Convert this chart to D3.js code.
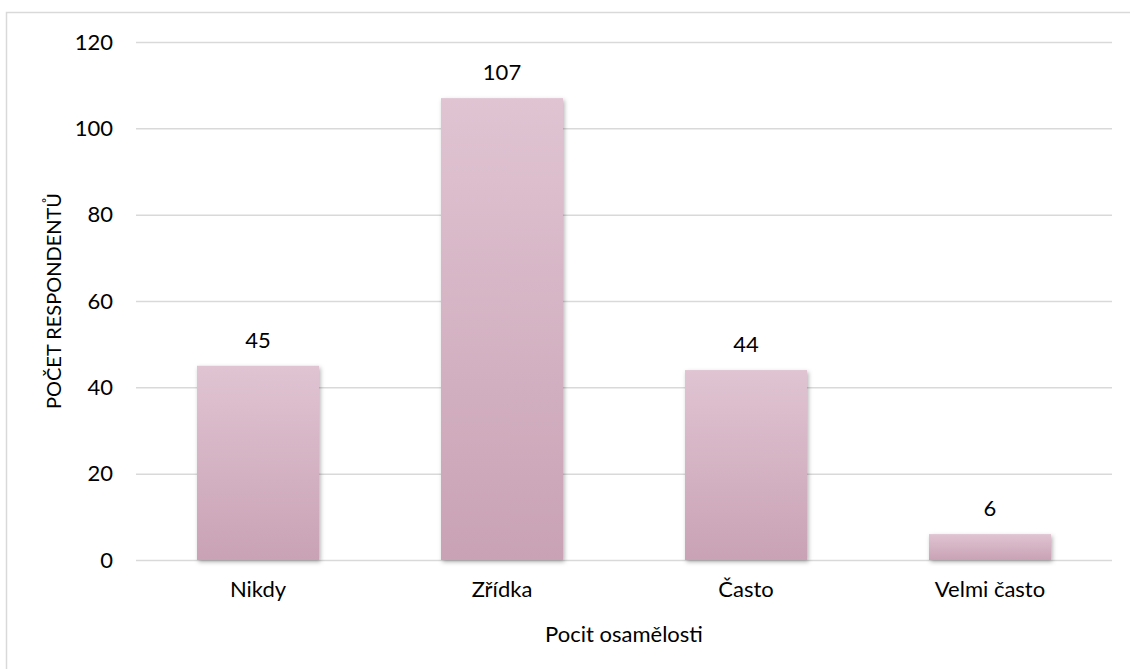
<!DOCTYPE html>
<html><head><meta charset="utf-8">
<script src="https://cdn.jsdelivr.net/npm/d3@7"></script>
<style>body{margin:0;background:#fff}svg{display:block}text{font-family:Lato,"Open Sans",sans-serif;fill:#000}</style>
</head><body><svg id="c" width="1130" height="669"></svg>
<script>
const categories = ["Nikdy", "Zřídka", "Často", "Velmi často"];
const values = [45, 107, 44, 6];
const yTicks = [0, 20, 40, 60, 80, 100, 120];
const xTitle = "Pocit osamělosti";
const yTitle = "POČET RESPONDENTŮ";

const svg = d3.select("#c");
const m = {l:136, r:1112, t:42, b:560};
const x = d3.scaleBand().domain(categories).range([m.l, m.r]).paddingInner(0.5).paddingOuter(0.25);
const y = d3.scaleLinear().domain([0,120]).range([m.b, m.t]);
const FS = 22;

const defs = svg.append("defs");
const g = defs.append("linearGradient").attr("id","bg").attr("x1",0).attr("y1",0).attr("x2",0).attr("y2",1);
g.append("stop").attr("offset","0%").attr("stop-color","#e0c4d2");
g.append("stop").attr("offset","100%").attr("stop-color","#c9a2b5");
const f = defs.append("filter").attr("id","sh").attr("x","-20%").attr("y","-20%").attr("width","140%").attr("height","140%");
f.append("feDropShadow").attr("dx",1.5).attr("dy",2).attr("stdDeviation",2).attr("flood-color","#000").attr("flood-opacity",0.3);

// frame
svg.append("path").attr("d","M6.5,669 V12.5 H1130").attr("fill","none").attr("stroke","#d9d9d9").attr("stroke-width",1.5);

// grid
const yAxis = d3.axisLeft(y).tickValues(yTicks).tickSize(-(m.r-m.l)).tickPadding(23);
const ga = svg.append("g").attr("transform",`translate(${m.l},0)`).call(yAxis);
ga.select(".domain").remove();
ga.selectAll(".tick line").attr("stroke","#d9d9d9").attr("stroke-width",1.5);
ga.selectAll(".tick text").attr("font-size",FS).attr("font-family","Lato").attr("fill","#000");

// bars
svg.selectAll("rect.bar").data(values).join("rect").attr("class","bar")
  .attr("x",(d,i)=>x(categories[i])).attr("width",x.bandwidth())
  .attr("y",d=>y(d)).attr("height",d=>y(0)-y(d))
  .attr("fill","url(#bg)").attr("filter","url(#sh)");

// value labels
svg.selectAll("text.val").data(values).join("text").attr("class","val")
  .attr("x",(d,i)=>x(categories[i])+x.bandwidth()/2).attr("y",d=>y(d)-18)
  .attr("text-anchor","middle").attr("font-size",FS).text(d=>d);

// x axis labels
const xAxis = d3.axisBottom(x).tickSize(0).tickPadding(21);
const gx = svg.append("g").attr("transform",`translate(0,${m.b})`).call(xAxis);
gx.select(".domain").remove();
gx.selectAll(".tick text").attr("font-size",FS).attr("font-family","Lato").attr("fill","#000");

svg.append("text").attr("x",(m.l+m.r)/2).attr("y",642).attr("text-anchor","middle").attr("font-size",FS).text(xTitle);
svg.append("text").attr("transform",`translate(61,${(m.t+m.b)/2}) rotate(-90)`).attr("text-anchor","middle").attr("font-size",20).text(yTitle);
</script></body></html>
